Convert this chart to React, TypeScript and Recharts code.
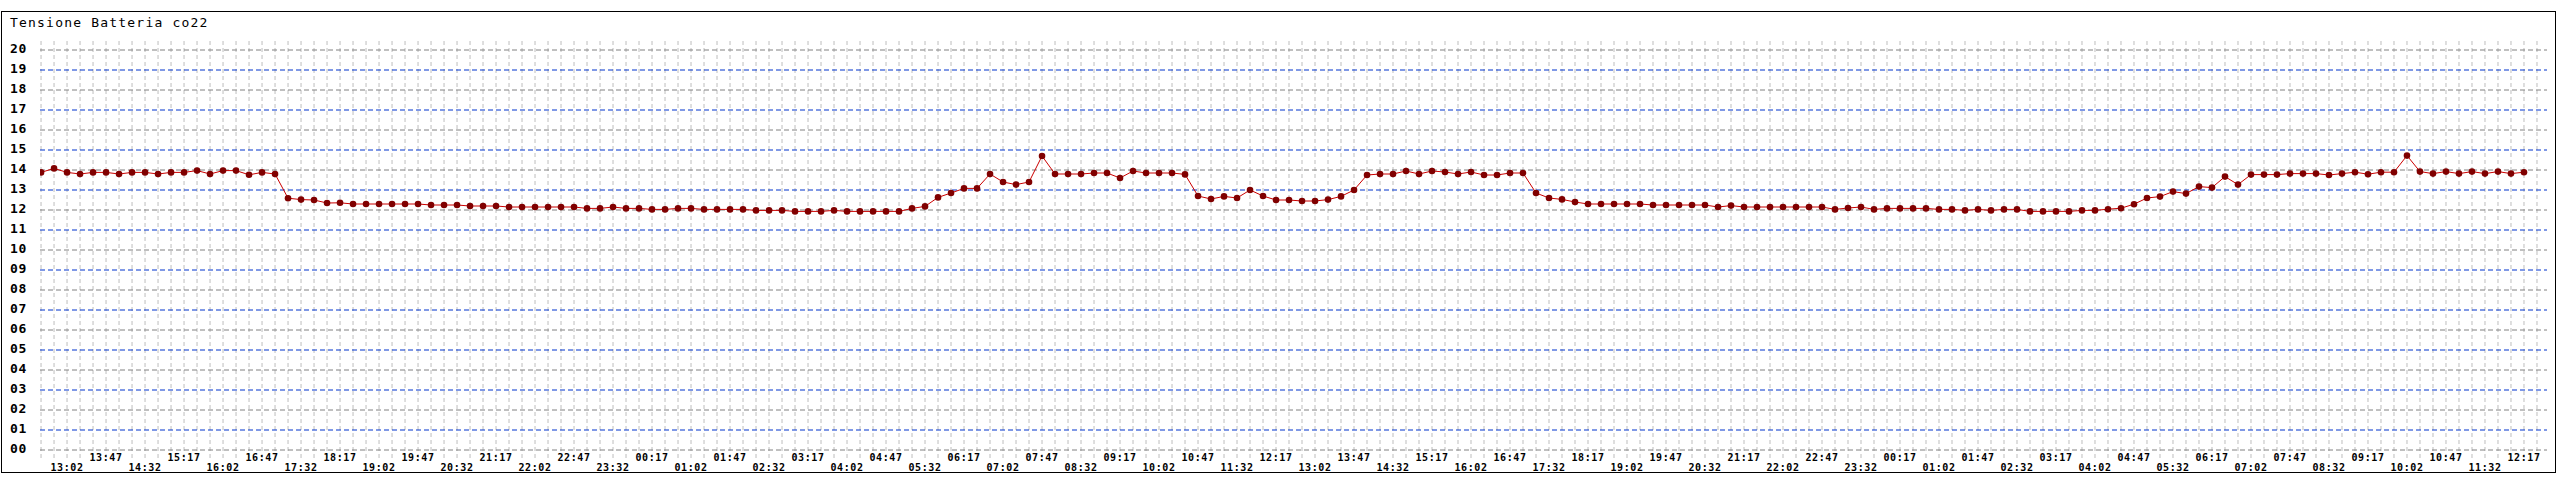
import React from 'react';
import { LineChart, Line, XAxis, YAxis, ReferenceLine } from 'recharts';

// battery voltage, one reading every 15 minutes (first point 12:32)
const VOLTS = [
  13.88, 14.08, 13.88, 13.8, 13.88, 13.88, 13.8, 13.88, 13.88, 13.8,
  13.88, 13.88, 13.97, 13.8, 13.97, 13.97, 13.76, 13.88, 13.8, 12.59,
  12.52, 12.5, 12.35, 12.36, 12.3, 12.3, 12.3, 12.3, 12.3, 12.3,
  12.25, 12.25, 12.25, 12.2, 12.2, 12.2, 12.15, 12.15, 12.15, 12.15,
  12.15, 12.15, 12.08, 12.08, 12.15, 12.08, 12.08, 12.03, 12.03, 12.08,
  12.08, 12.03, 12.03, 12.03, 12.03, 11.98, 11.98, 11.98, 11.93, 11.93,
  11.93, 11.98, 11.93, 11.93, 11.93, 11.93, 11.93, 12.08, 12.18, 12.63,
  12.85, 13.08, 13.08, 13.8, 13.4, 13.27, 13.4, 14.7, 13.8, 13.8,
  13.8, 13.85, 13.85, 13.6, 13.95, 13.85, 13.85, 13.85, 13.78, 12.7,
  12.55, 12.68, 12.6, 13.0, 12.7, 12.5, 12.5, 12.45, 12.45, 12.52,
  12.68, 13.0, 13.75, 13.8, 13.8, 13.95, 13.8, 13.95, 13.9, 13.8,
  13.9, 13.75, 13.75, 13.85, 13.85, 12.85, 12.6, 12.53, 12.4, 12.3,
  12.3, 12.3, 12.3, 12.3, 12.25, 12.25, 12.25, 12.25, 12.25, 12.15,
  12.22, 12.15, 12.15, 12.15, 12.15, 12.15, 12.15, 12.15, 12.03, 12.1,
  12.15, 12.03, 12.08, 12.08, 12.08, 12.08, 12.03, 12.03, 11.98, 12.03,
  11.98, 12.03, 12.03, 11.93, 11.93, 11.93, 11.93, 11.98, 11.98, 12.04,
  12.09, 12.29, 12.6, 12.67, 12.92, 12.82, 13.17, 13.12, 13.67, 13.27,
  13.77, 13.77, 13.77, 13.82, 13.82, 13.82, 13.75, 13.82, 13.89, 13.79,
  13.89, 13.89, 14.72, 13.92, 13.82, 13.92, 13.82, 13.92, 13.82, 13.92,
  13.82, 13.89,
];

const TIME_LABELS = [
  '13:02', '13:47', '14:32', '15:17', '16:02', '16:47', '17:32', '18:17',
  '19:02', '19:47', '20:32', '21:17', '22:02', '22:47', '23:32', '00:17',
  '01:02', '01:47', '02:32', '03:17', '04:02', '04:47', '05:32', '06:17',
  '07:02', '07:47', '08:32', '09:17', '10:02', '10:47', '11:32', '12:17',
  '13:02', '13:47', '14:32', '15:17', '16:02', '16:47', '17:32', '18:17',
  '19:02', '19:47', '20:32', '21:17', '22:02', '22:47', '23:32', '00:17',
  '01:02', '01:47', '02:32', '03:17', '04:02', '04:47', '05:32', '06:17',
  '07:02', '07:47', '08:32', '09:17', '10:02', '10:47', '11:32', '12:17',
];

const Y_TICKS = [0, 1, 2, 3, 4, 5, 6, 7, 8, 9, 10, 11, 12, 13, 14, 15, 16, 17, 18, 19, 20];

const data = VOLTS.map((v, i) => ({ i, v }));
const xTicks = TIME_LABELS.map((_, k) => 2 + 3 * k);
const gridX = Array.from({ length: VOLTS.length + 1 }, (_, i) => i);

const FONT = '"DejaVu Sans Mono", monospace';

const TimeTick = (props: any) => {
  const k = Math.round((props.payload.value - 2) / 3);
  const lower = k % 2 === 0;
  return (
    <text x={props.x} y={lower ? 471 : 461} textAnchor="middle"
      fontFamily={FONT} fontSize={10} fontWeight="bold" letterSpacing={0.6} fill="#000">
      {TIME_LABELS[k]}
    </text>
  );
};

const VoltTick = (props: any) => (
  <text x={10} y={props.y + 3} textAnchor="start"
    fontFamily={FONT} fontSize={13} fontWeight="bold" letterSpacing={0.7} fill="#000">
    {String(props.payload.value).padStart(2, '0')}
  </text>
);

export default function App() {
  return (
    <div style={{ position: 'absolute', left: 0, top: 0, width: 2560, height: 480, background: '#fff' }}>
      <div style={{
        position: 'absolute', left: 1, top: 11, width: 2553, height: 460,
        border: '1px solid #000',
      }} />
      <div style={{
        position: 'absolute', left: 10, top: 15, fontFamily: FONT, fontSize: 13,
        letterSpacing: 1.2, lineHeight: '16px', color: '#000',
      }}>
        Tensione Batteria co22
      </div>
      <div style={{ position: 'absolute', left: 0, top: 0 }}>
        <LineChart width={2560} height={480} data={data}
          margin={{ top: 40, right: 13, bottom: 0, left: 0 }}>
          <XAxis dataKey="i" type="number" domain={[-0.08, 192.77]} allowDataOverflow
            ticks={xTicks} interval={0} axisLine={false} tickLine={false} height={22}
            tick={TimeTick} />
          <YAxis type="number" domain={[-0.4, 20.5]} allowDataOverflow ticks={Y_TICKS}
            interval={0} axisLine={false} tickLine={false} width={40} tick={VoltTick} />
          {gridX.map(i => (
            <ReferenceLine key={'vx' + i} x={i} stroke="#bdbdbd" strokeDasharray="4 3" />
          ))}
          {Y_TICKS.map(y => (
            <ReferenceLine key={'hy' + y} y={y}
              stroke={y % 2 === 1 ? '#0033cc' : '#808080'} strokeDasharray="5 3" />
          ))}
          <Line type="linear" dataKey="v" stroke="#cc0000" strokeWidth={1}
            dot={{ r: 3.3, fill: '#800000', stroke: 'none' }} isAnimationActive={false} />
        </LineChart>
      </div>
    </div>
  );
}
